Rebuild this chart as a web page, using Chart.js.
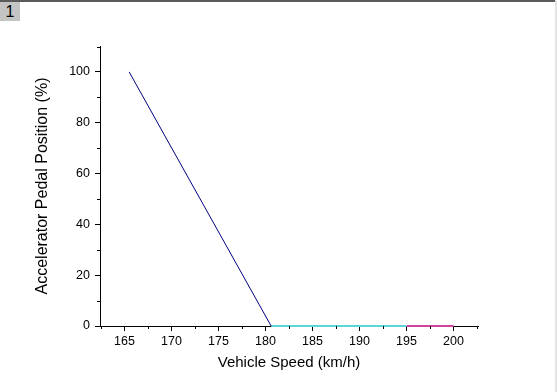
<!DOCTYPE html>
<html>
<head>
<meta charset="utf-8">
<script src="https://cdn.jsdelivr.net/npm/chart.js@4"></script>
<style>
  body { margin: 0; background: #fff; }
  #wrap { position: relative; width: 557px; height: 392px; overflow: hidden; }
  #chart { position: absolute; left: 0; top: 0; }
  #topbar { position: absolute; left: 0; top: 0; width: 557px; height: 2px; background: #5a5a5a; }
  #rightbar { position: absolute; right: 0; top: 0; width: 2px; height: 392px; background: #e4e4e4; }
  #layer { position: absolute; left: 0; top: 2px; width: 20px; height: 19px; background: #c4c4c4;
           font: 16px "Liberation Sans", Arial, sans-serif; color: #000; text-align: center; line-height: 19px; }
</style>
</head>
<body>
<div id="wrap">
  <canvas id="chart" width="557" height="392"></canvas>
  <div id="topbar"></div>
  <div id="rightbar"></div>
  <div id="layer">1</div>
</div>
<script>
// pedal position vs vehicle speed
const rampSpeed = [165.5, 180.6];
const rampPedal = [100, 0];
const flatSpeed = [180.6, 195];
const flatPedal = [0, 0];
const highSpeed = [195, 200];
const highPedal = [0, 0];

const xTicks = [165, 170, 175, 180, 185, 190, 195, 200];
const yTicks = [0, 20, 40, 60, 80, 100];
const xMinor = [162.5, 167.5, 172.5, 177.5, 182.5, 187.5, 192.5, 197.5, 202.5];
const yMinor = [10, 30, 50, 70, 90, 110];

function toPoints(xs, ys) {
  return xs.map((x, i) => ({ x: x, y: ys[i] }));
}

const font = 'Liberation Sans';

// Origin style minor ticks, shorter than the major ones
const minorTicks = {
  id: 'minorTicks',
  afterDraw(chart) {
    const ctx = chart.ctx;
    const xs = chart.scales.x, ys = chart.scales.y;
    const area = chart.chartArea;
    ctx.save();
    ctx.strokeStyle = '#000';
    ctx.lineWidth = 1;
    ctx.beginPath();
    xMinor.forEach(v => {
      const px = Math.round(xs.getPixelForValue(v)) + 0.5;
      ctx.moveTo(px, area.bottom);
      ctx.lineTo(px, area.bottom + 3);
    });
    yMinor.forEach(v => {
      const py = Math.round(ys.getPixelForValue(v)) + 0.5;
      ctx.moveTo(area.left, py);
      ctx.lineTo(area.left - 3, py);
    });
    ctx.stroke();
    ctx.restore();
  }
};

new Chart(document.getElementById('chart'), {
  type: 'scatter',
  data: {
    datasets: [
      { data: toPoints(rampSpeed, rampPedal), borderColor: '#000080' },
      { data: toPoints(flatSpeed, flatPedal), borderColor: '#5ad6d6', borderWidth: 2, clip: false },
      { data: toPoints(highSpeed, highPedal), borderColor: '#d2439e', borderWidth: 2, clip: false }
    ]
  },
  options: {
    responsive: false,
    animation: false,
    showLine: true,
    elements: {
      line: { borderWidth: 1, tension: 0 },
      point: { radius: 0, hoverRadius: 0 }
    },
    layout: { padding: { left: 0, top: 46, right: 79, bottom: 0 } },
    plugins: { legend: { display: false }, tooltip: { enabled: false } },
    scales: {
      x: {
        type: 'linear',
        min: 162.4,
        max: 202.6,
        afterFit: s => { s.height = 66; },
        afterBuildTicks: s => { s.ticks = xTicks.map(v => ({ value: v })); },
        grid: { drawOnChartArea: false, drawTicks: true, tickLength: 5, color: '#000' },
        border: { display: true, color: '#000', width: 1 },
        ticks: { color: '#000', padding: 3, font: { family: font, size: 12.5 } },
        title: {
          display: true,
          text: 'Vehicle Speed (km/h)',
          color: '#000',
          font: { family: font, size: 15 },
          padding: { top: 0, bottom: 20 }
        }
      },
      y: {
        type: 'linear',
        min: 0,
        max: 110.2,
        afterFit: s => { s.width = 100; },
        afterBuildTicks: s => { s.ticks = yTicks.map(v => ({ value: v })); },
        grid: { drawOnChartArea: false, drawTicks: true, tickLength: 5, color: '#000' },
        border: { display: true, color: '#000', width: 1 },
        ticks: { color: '#000', padding: 5, font: { family: font, size: 12.5 } },
        title: {
          display: true,
          text: 'Accelerator Pedal Position (%)',
          color: '#000',
          font: { family: font, size: 16 },
          padding: { top: 33, bottom: 0 }
        }
      }
    }
  },
  plugins: [minorTicks]
});
</script>
</body>
</html>
